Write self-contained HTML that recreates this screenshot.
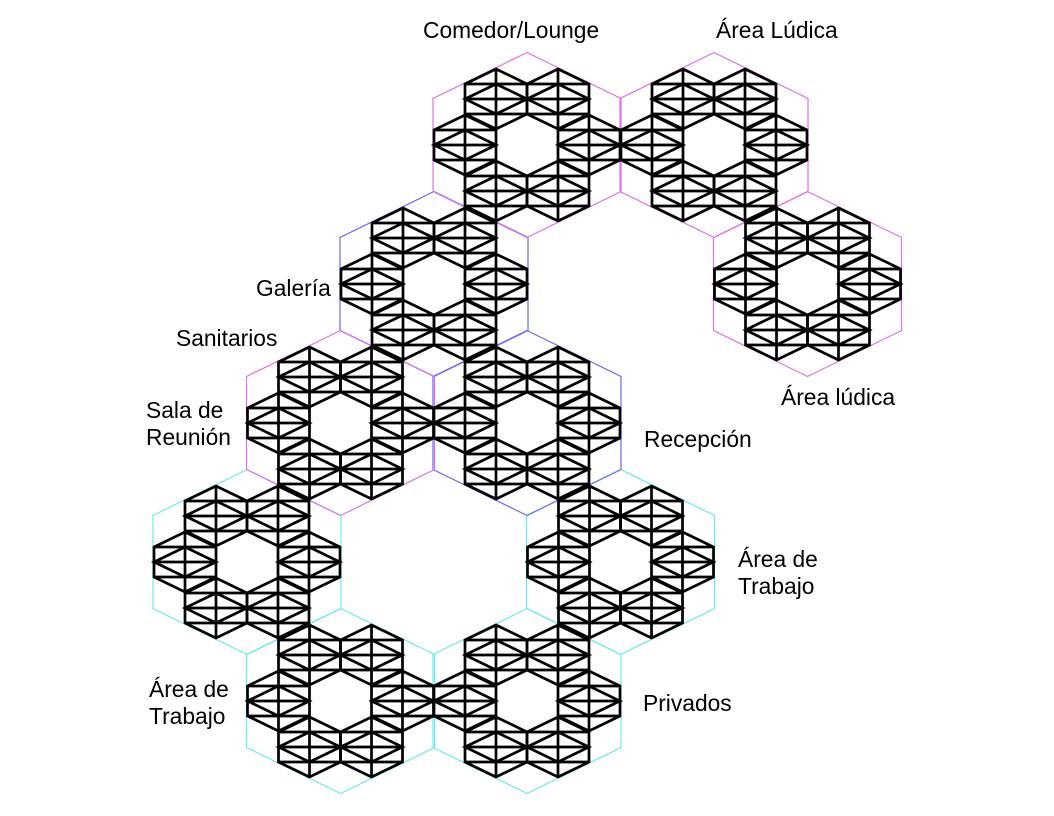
<!DOCTYPE html>
<html><head><meta charset="utf-8"><style>
html,body{margin:0;padding:0;background:#fff;}
svg{display:block;}
text{font-family:"Liberation Sans",Arial,sans-serif;font-size:22.8px;fill:#000;}
</style></head><body>
<svg width="1054" height="816" viewBox="0 0 1054 816" xmlns="http://www.w3.org/2000/svg">
<defs>
<path id="hx" d="M0,-92.5 L94,-46.5 L94,46.5 L0,92.5 L-94,46.5 L-94,-46.5Z" fill="none" stroke-width="1.2"/>
<path id="u" d="M0,-30 L31,-15 L31,15 L0,30 L-31,15 L-31,-15Z M-31,-15H31 M-31,0H31 M-31,15H31 M0,-30V30 M-31,0 L0,-15 L31,0 L0,15Z" fill="none" stroke="#000" stroke-width="2.7" stroke-linejoin="miter"/>
<g id="m">
<use href="#u" x="-62" y="0"/><use href="#u" x="62" y="0"/>
<use href="#u" x="-31" y="-46"/><use href="#u" x="31" y="-46"/>
<use href="#u" x="-31" y="46"/><use href="#u" x="31" y="46"/>
</g>
</defs>
<g stroke="#70e8f0">
<use href="#hx" x="247" y="562"/><use href="#hx" x="620.5" y="562"/>
<use href="#hx" x="340.5" y="701"/><use href="#hx" x="527" y="701"/>
</g>
<g stroke="#6a6af0">
<use href="#hx" x="434" y="284"/><use href="#hx" x="527" y="423"/>
</g>
<g stroke="#e070e8">
<use href="#hx" x="527" y="145"/><use href="#hx" x="714" y="145"/>
<use href="#hx" x="807.5" y="284"/><use href="#hx" x="340.5" y="423"/>
</g>
<use href="#m" x="527" y="145"/><use href="#m" x="714" y="145"/>
<use href="#m" x="807.5" y="284"/><use href="#m" x="434" y="284"/>
<use href="#m" x="340.5" y="423"/><use href="#m" x="527" y="423"/>
<use href="#m" x="247" y="562"/><use href="#m" x="620.5" y="562"/>
<use href="#m" x="340.5" y="701"/><use href="#m" x="527" y="701"/>
<text x="423" y="38">Comedor/Lounge</text>
<text x="716" y="38">Área Lúdica</text>
<text x="256" y="296">Galería</text>
<text x="176" y="346">Sanitarios</text>
<text x="146" y="418">Sala de</text>
<text x="146" y="445">Reunión</text>
<text x="781" y="405">Área lúdica</text>
<text x="644" y="447">Recepción</text>
<text x="738" y="567">Área de</text>
<text x="738" y="594">Trabajo</text>
<text x="149" y="697">Área de</text>
<text x="149" y="724">Trabajo</text>
<text x="643" y="711">Privados</text>
</svg>
</body></html>
